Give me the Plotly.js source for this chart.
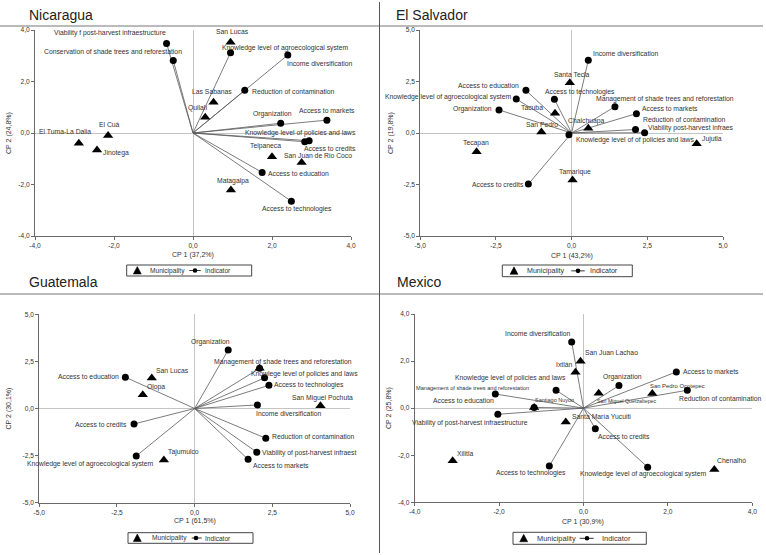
<!DOCTYPE html>
<html><head><meta charset="utf-8">
<script src="https://cdn.plot.ly/plotly-3.0.1.min.js"></script>
<style>html,body{margin:0;padding:0;background:#fff}#chart{width:766px;height:555px}</style>
</head><body><div id="chart"></div>
<script>
// ================= DATA =================
// Nicaragua
const nicMunNames = ['San Lucas','Las Sabanas','Quilalí','El Cuá','El Tuma-La Dalia','Jinotega','Telpaneca','San Juan de Rio Coco','Matagalpa'];
const nicMunX = [0.95, 0.52, 0.31, -2.15, -2.89, -2.43, 2.00, 2.75, 0.96];
const nicMunY = [3.52, 1.19, 0.61, -0.10, -0.40, -0.66, -0.92, -1.15, -2.21];
const nicIndNames = ['Viability f post-harvest infraestructure','Conservation of shade trees and reforestation','Knowledge level of agroecological system','Income diversification','Reduction of contamination','Organization','Access to markets','Knowledge level of policies and laws','Access to credits','Access to education','Access to technologies'];
const nicIndX = [-0.67, -0.50, 0.95, 2.40, 1.31, 2.22, 3.39, 2.94, 2.83, 1.75, 2.49];
const nicIndY = [3.48, 2.82, 3.12, 3.03, 1.66, 0.38, 0.50, -0.30, -0.34, -1.53, -2.65];
const nicAxisTitles = ['CP 1 (37,2%)', 'CP 2 (24,8%)'];

// El Salvador
const salMunNames = ['Santa Tecla','Tacuba','Chalchuapa','San Pedro','Jujutla','Tecapan','Tamarique'];
const salMunX = [-0.06, -0.55, 0.55, -1.00, 4.13, -3.14, 0.03];
const salMunY = [2.44, 0.96, 0.23, 0.05, -0.52, -0.91, -2.28];
const salIndNames = ['Income diversification','Access to education','Knowledge level of agroecological system','Access to technologies','Organization','Management of shade trees and reforestation','Access to markets','Reduction of contamination','Viability post-harvest infraes','Knowledge level of of policies and laws','Access to credits'];
const salIndX = [0.55, -1.51, -1.83, -0.57, -2.40, 1.43, 2.14, 2.11, 2.41, -0.09, -1.43];
const salIndY = [3.53, 2.07, 1.65, 1.64, 1.12, 1.28, 0.94, 0.17, 0.01, -0.08, -2.48];
const salAxisTitles = ['CP 1 (43,2%)', 'CP 2 (19,8%)'];

// Guatemala
const guaMunNames = ['San Lucas','Olopa','Tajumulco','San Miguel Pochuta',''];
const guaMunX = [-1.38, -1.67, -0.99, 4.05, 2.09];
const guaMunY = [1.62, 0.73, -2.73, 0.15, 2.13];
const guaIndNames = ['Organization','Management of shade trees and reforestation','Knowlege level of policies and laws','Access to technologies','Income diversification','Access to education','Access to credits','Knowledge level of agroecological system','Reduction of contamination','Viability of post-harvest infraest','Access to markets'];
const guaIndX = [1.08, 2.09, 2.25, 2.39, 2.02, -2.23, -1.95, -1.88, 2.29, 2.00, 1.72];
const guaIndY = [3.11, 2.13, 1.63, 1.23, 0.19, 1.66, -0.82, -2.52, -1.58, -2.32, -2.70];
const guaAxisTitles = ['CP 1 (61,5%)', 'CP 2 (30,1%)'];

// Mexico
const mexMunNames = ['San Juan Lachao','Ixtlán','San Pedro Ocotepec','San Miguel Quetzaltepec','Santiago Nuyoo','Santa María Yucuiti','Chenalhó','Xilitla'];
const mexMunX = [-0.07, -0.19, 1.63, 0.36, -1.17, -0.42, 3.10, -3.10];
const mexMunY = [1.99, 1.53, 0.62, 0.63, 0.03, -0.59, -2.61, -2.24];
const mexIndNames = ['Income diversification','Access to markets','Organization','Reduction of contamination','Knowledge level of policies and laws','Management of shade trees and reforestation','Access to education','Viability of post-harvest infraestructure','Access to credits','Access to technologies','Knowledge level of agroecological system'];
const mexIndX = [-0.28, 2.20, 0.84, 2.46, -0.65, -2.09, -1.17, -2.03, 0.28, -0.81, 1.52];
const mexIndY = [2.81, 1.54, 0.96, 0.76, 0.76, 0.60, 0.03, -0.26, -0.88, -2.46, -2.51];
const mexAxisTitles = ['CP 1 (30,9%)', 'CP 2 (25,8%)'];

// Tick labels
const ticks4 = [-4, -2, 0, 2, 4];
const ticks4Text = ['-4,0', '-2,0', '0,0', '2,0', '4,0'];
const ticks5 = [-5, -2.5, 0, 2.5, 5];
const ticks5Text = ['-5,0', '-2,5', '0,0', '2,5', '5,0'];
const legendTexts = ['Municipality', 'Indicator'];

// ================= STYLE / LAYOUT =================
const W = 766, H = 555;
const FONT = 'Liberation Sans, Arial, sans-serif';
const LBL = 6.8;
const PX = x => x / W, PY = y => 1 - y / H;

// label placement: [xanchor, xshift px, yshift px, fontsize?]
const nicMunPos = [['center',2,11],['center',-2,10.5],['center',-8,9.5],['center',1,11.5],['right',13,12],['left',5,-2.7],['center',-7,11],['center',16.5,7],['center',2.3,9]];
const nicIndPos = [['right',0,10],['right',9.5,8.6],['left',-9.7,5],['left',-2,-9],['left',6.7,-1.4],['center',-8,9],['center',0,10],['right',47.4,8],['left',-1.3,-6.6],['left',5,-1],['center',5.5,-8]];
const salMunPos = [['center',2.5,8],['right',-11.3,6],['center',-2,7.6],['center',0.8,7.7],['left',4.3,4.4],['center',-0.7,8.4],['center',2.7,7.7]];
const salIndPos = [['left',3.6,7],['right',-6,5.3],['right',-3.7,2.3],['left',-10,7.6],['right',-6.3,1],['left',-20.3,7.4],['left',4.6,4.7],['left',6.3,9.7],['left',2.3,5],['left',6.4,-5.3],['right',-3,0]];
const guaMunPos = [['center',20.5,7.3],['center',13.2,7.4],['center',19.9,7.7],['center',1.8,8],['center',0,0]];
const guaIndPos = [['center',-17.4,8],['center',23.7,6.6],['left',-15,3.4],['left',4,0],['left',-2.7,-9],['right',-5.7,0.6],['right',-6,-1],['right',19,-7.7],['left',5,1.6],['left',4.4,-1],['left',4,-6]];
const mexMunPos = [['left',3,8.6],['right',-2.7,7.3],['left',-3,7.7,5.9],['left',-3,-8,5.3],['left',0.3,7.7,5.5],['left',5.4,6],['left',1.7,8.7],['left',3.7,7.7]];
const mexIndPos = [['right',0,8.7],['left',6,0],['center',3.5,8.4],['left',-9,-8],['right',10.6,12.6],['right',34.7,5.7,5.6],['right',-39,7.3],['right',30.7,-9],['left',1.6,-7.7],['right',17.3,-6.7],['center',-3.8,-6.7]];

const panels = [
  {title:'Nicaragua', tx:28, ty:15, xd:[35,351], yd:[30,236], xr:[-4,4], tv:ticks4, tt:ticks4Text,
   mun:[nicMunNames,nicMunX,nicMunY,nicMunPos], ind:[nicIndNames,nicIndX,nicIndY,nicIndPos], at:nicAxisTitles,
   xt:[193,255], yt:[9,133],
   leg:{x0:126.7,x1:251.7,y0:265,y1:276,tri:137.3,mun:149.3,l0:189.3,l1:200.7,dot:195,ind:204,fs:6.6}},
  {title:'El Salvador', tx:394.7, ty:15, xd:[420.3,723], yd:[30,236], xr:[-5,5], tv:ticks5, tt:ticks5Text,
   mun:[salMunNames,salMunX,salMunY,salMunPos], ind:[salIndNames,salIndX,salIndY,salIndPos], at:salAxisTitles,
   xt:[572,256], yt:[391,133],
   leg:{x0:502.3,x1:632.3,y0:265,y1:276.7,tri:514,mun:525.7,l0:571.3,l1:584.7,dot:578,ind:589,fs:7.1}},
  {title:'Guatemala', tx:28, ty:282, xd:[39.3,350], yd:[314.3,502.7], xr:[-5,5], tv:ticks5, tt:ticks5Text,
   mun:[guaMunNames,guaMunX,guaMunY,guaMunPos], ind:[guaIndNames,guaIndX,guaIndY,guaIndPos], at:guaAxisTitles,
   xt:[195,521], yt:[8,408.5],
   leg:{x0:128,x1:253,y0:532.7,y1:543.3,tri:137.3,mun:151,l0:191.7,l1:201.7,dot:196,ind:204.3,fs:6.6}},
  {title:'Mexico', tx:396, ty:282, xd:[414.7,752.3], yd:[314,502.3], xr:[-4,4], tv:ticks4, tt:ticks4Text,
   mun:[mexMunNames,mexMunX,mexMunY,mexMunPos], ind:[mexIndNames,mexIndX,mexIndY,mexIndPos], at:mexAxisTitles,
   xt:[583,522], yt:[389,408],
   leg:{x0:513,x1:646.3,y0:532.3,y1:544.3,tri:523.7,mun:536.3,l0:579.7,l1:593.7,dot:587,ind:600.7,fs:7.4}}
];

const traces = [], annotations = [], shapes = [];
const layout = {
  width: W, height: H, autosize: false,
  margin: {l:0, r:0, t:0, b:0, pad:0},
  paper_bgcolor: '#fff', plot_bgcolor: 'rgba(0,0,0,0)',
  showlegend: false, font: {family: FONT, color: '#333'},
  hovermode: false
};

panels.forEach((p, k) => {
  const n = k + 1;
  const xa = n === 1 ? 'x' : 'x' + n, ya = n === 1 ? 'y' : 'y' + n;
  const axBase = {
    showgrid: false, zeroline: true, zerolinecolor: '#c4c4c4', zerolinewidth: 1,
    showline: true, linecolor: '#6a6a6a', linewidth: 1, ticks: 'outside', ticklen: 3,
    tickcolor: '#6a6a6a', tickwidth: 1, tickfont: {family: FONT, size: 6.6, color: '#333'},
    tickvals: p.tv, ticktext: p.tt, tickmode: 'array', fixedrange: true
  };
  layout['xaxis' + (n === 1 ? '' : n)] = Object.assign({}, axBase, {
    domain: [PX(p.xd[0]), PX(p.xd[1])], range: p.xr, anchor: ya });
  layout['yaxis' + (n === 1 ? '' : n)] = Object.assign({}, axBase, {
    domain: [PY(p.yd[1]), PY(p.yd[0])], range: p.xr, anchor: xa });

  const [iN, iX, iY, iP] = p.ind;
  const [mN, mX, mY, mP] = p.mun;
  // vectors from origin
  const vx = [], vy = [];
  iX.forEach((x, i) => { vx.push(0, x, null); vy.push(0, iY[i], null); });
  traces.push({type:'scatter', mode:'lines', x:vx, y:vy, xaxis:xa, yaxis:ya,
    line:{color:'#5a5a5a', width:0.8}, hoverinfo:'skip'});
  traces.push({type:'scatter', mode:'markers', x:iX, y:iY, xaxis:xa, yaxis:ya,
    marker:{symbol:'circle', size:7, color:'#000'}, hoverinfo:'skip'});
  traces.push({type:'scatter', mode:'markers', x:mX, y:mY, xaxis:xa, yaxis:ya,
    marker:{symbol:'triangle-up', size:9, color:'#000'}, hoverinfo:'skip'});

  const addLabels = (names, xs, ys, pos) => names.forEach((t, i) => {
    if (!t) return;
    const s = pos[i];
    annotations.push({x:xs[i], y:ys[i], xref:xa, yref:ya, text:t, showarrow:false,
      xanchor:s[0], yanchor:'middle', xshift:s[1], yshift:s[2], borderpad:0,
      font:{family:FONT, size:s[3] || LBL, color:'#333'}});
  });
  addLabels(iN, iX, iY, iP);
  addLabels(mN, mX, mY, mP);

  // panel title
  annotations.push({x:PX(p.tx), y:PY(p.ty), xref:'paper', yref:'paper', text:p.title,
    showarrow:false, xanchor:'left', yanchor:'middle', borderpad:0,
    font:{family:FONT, size:14, color:'#222'}});
  // axis titles
  annotations.push({x:PX(p.xt[0]), y:PY(p.xt[1]), xref:'paper', yref:'paper', text:p.at[0],
    showarrow:false, xanchor:'center', yanchor:'middle', borderpad:0,
    font:{family:FONT, size:7, color:'#333'}});
  annotations.push({x:PX(p.yt[0]), y:PY(p.yt[1]), xref:'paper', yref:'paper', text:p.at[1],
    showarrow:false, xanchor:'center', yanchor:'middle', textangle:-90, borderpad:0,
    font:{family:FONT, size:7, color:'#333'}});

  // legend box
  const L = p.leg, cy = (L.y0 + L.y1) / 2;
  shapes.push({type:'rect', xref:'paper', yref:'paper', x0:PX(L.x0), x1:PX(L.x1), y0:PY(L.y1), y1:PY(L.y0),
    line:{color:'#444', width:1}, fillcolor:'#fff'});
  shapes.push({type:'path', xref:'paper', yref:'paper',
    path:`M ${PX(L.tri-4)},${PY(cy+3.5)} L ${PX(L.tri+4)},${PY(cy+3.5)} L ${PX(L.tri)},${PY(cy-4)} Z`,
    fillcolor:'#000', line:{color:'#000', width:0.5}});
  shapes.push({type:'line', xref:'paper', yref:'paper', x0:PX(L.l0), x1:PX(L.l1), y0:PY(cy), y1:PY(cy),
    line:{color:'#333', width:1}});
  shapes.push({type:'circle', xref:'paper', yref:'paper', x0:PX(L.dot-2.3), x1:PX(L.dot+2.3), y0:PY(cy+2.3), y1:PY(cy-2.3),
    fillcolor:'#000', line:{color:'#000', width:0}});
  annotations.push({x:PX(L.mun), y:PY(cy), xref:'paper', yref:'paper', text:legendTexts[0], showarrow:false,
    xanchor:'left', yanchor:'middle', borderpad:0, font:{family:FONT, size:L.fs, color:'#333'}});
  annotations.push({x:PX(L.ind), y:PY(cy), xref:'paper', yref:'paper', text:legendTexts[1], showarrow:false,
    xanchor:'left', yanchor:'middle', borderpad:0, font:{family:FONT, size:L.fs, color:'#333'}});
});

// panel separators
shapes.push({type:'line', xref:'paper', yref:'paper', x0:0, x1:PX(763), y0:PY(26), y1:PY(26), line:{color:'#777', width:1}});
shapes.push({type:'line', xref:'paper', yref:'paper', x0:0, x1:PX(763), y0:PY(294), y1:PY(294), line:{color:'#777', width:1}});
shapes.push({type:'line', xref:'paper', yref:'paper', x0:PX(379.5), x1:PX(379.5), y0:PY(2), y1:PY(553), line:{color:'#555', width:1}});

layout.annotations = annotations;
layout.shapes = shapes;

Plotly.newPlot('chart', traces, layout, {displayModeBar:false, staticPlot:true});
</script>
</body></html>
